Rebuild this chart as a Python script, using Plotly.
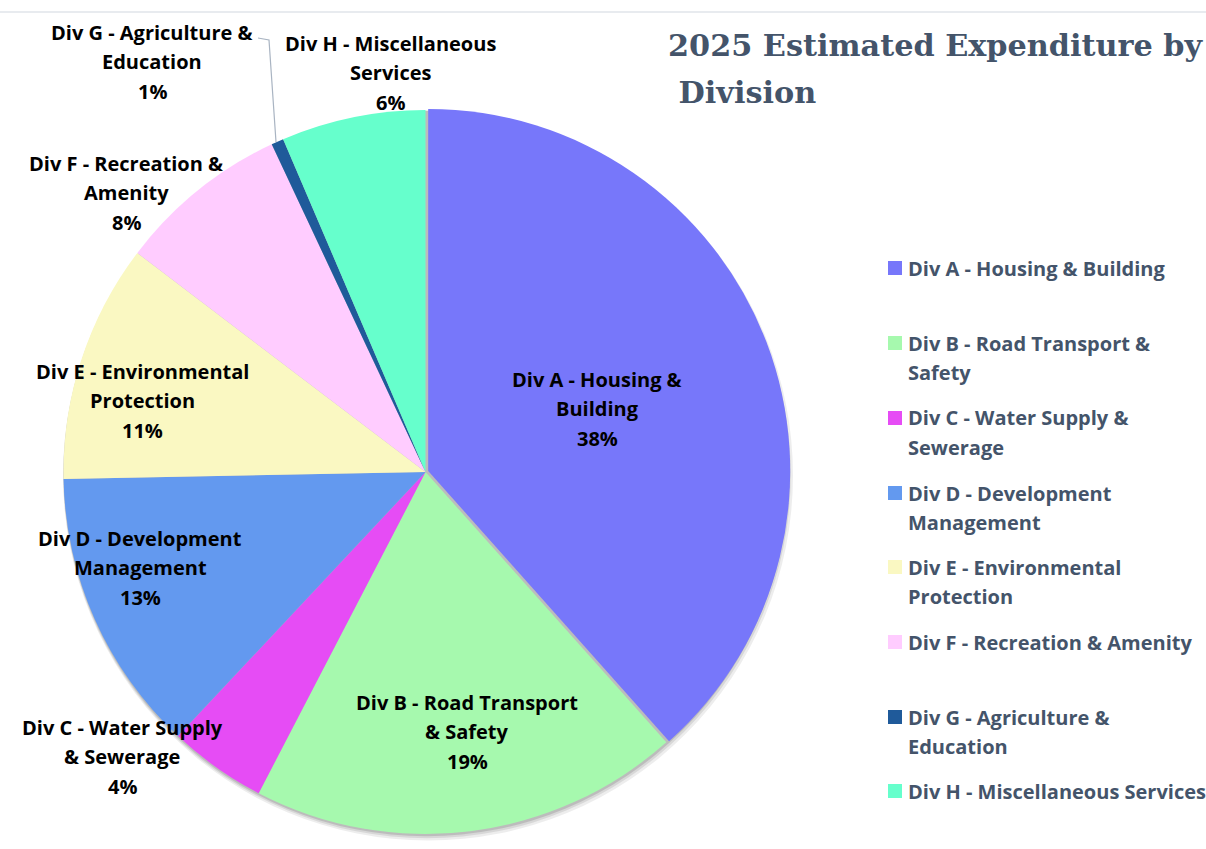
import plotly.graph_objects as go

W, H = 1206, 849

# ---------------- data ----------------
categories = [
    "Div A - Housing & Building",
    "Div B - Road Transport & Safety",
    "Div C - Water Supply & Sewerage",
    "Div D - Development Management",
    "Div E - Environmental Protection",
    "Div F - Recreation & Amenity",
    "Div G - Agriculture & Education",
    "Div H - Miscellaneous Services",
]
shares = [38.4, 19.2, 4.36, 12.7, 10.65, 7.67, 0.55, 6.43]
colors = ["#7777FA", "#A6F9AE", "#E64CF5", "#6399EF",
          "#FAF8C2", "#FFCCFF", "#1F5A9A", "#66FFCC"]

# wrapped label text (data labels on the pie)
label_lines = [
    ["Div A - Housing &", "Building"],
    ["Div B - Road Transport", "& Safety"],
    ["Div C - Water Supply", "& Sewerage"],
    ["Div D - Development", "Management"],
    ["Div E - Environmental", "Protection"],
    ["Div F - Recreation &", "Amenity"],
    ["Div G - Agriculture &", "Education"],
    ["Div H - Miscellaneous", "Services"],
]
# wrapped legend text
legend_lines = [
    ["Div A - Housing & Building"],
    ["Div B - Road Transport &", "Safety"],
    ["Div C - Water Supply &", "Sewerage"],
    ["Div D - Development", "Management"],
    ["Div E - Environmental", "Protection"],
    ["Div F - Recreation & Amenity"],
    ["Div G - Agriculture &", "Education"],
    ["Div H - Miscellaneous Services"],
]
title_lines = ["2025 Estimated Expenditure by", " Division"]

# ---------------- layout helpers ----------------
def fx(px):
    return px / W


def fy(py):
    return 1 - py / H


FONT = "Open Sans"
LABEL_SIZE = 20
LINE_H = 29.7
LEG_COLOR = "#44546A"

# pie geometry (pixels)
CX, CY, R = 425.5, 472.0, 362.0
PULL_A = 0.008

fig = go.Figure()

# soft drop shadow (blurred grey discs under the pie)
for (dx, dy, extra, alpha) in [(2.5, 3.5, 3.0, 0.07), (1.5, 2.5, 1.8, 0.09), (0.8, 1.5, 0.8, 0.12)]:
    rr = R + extra
    fig.add_trace(go.Pie(
        values=[1], labels=["shadow"], sort=False,
        marker=dict(colors=[f"rgba(0,0,0,{alpha})"], line=dict(width=0)),
        textinfo="none", hoverinfo="skip", showlegend=False,
        domain=dict(x=[fx(CX + dx - rr), fx(CX + dx + rr)],
                    y=[fy(CY + dy + rr), fy(CY + dy - rr)]),
    ))

# main pie
side = R * (1 + PULL_A)
pulls = [PULL_A] + [0] * (len(shares) - 1)
fig.add_trace(go.Pie(
    labels=categories, values=shares, sort=False, direction="clockwise",
    rotation=0, pull=pulls,
    marker=dict(colors=colors, line=dict(width=0)),
    textinfo="none", hoverinfo="label+percent", showlegend=False,
    domain=dict(x=[fx(CX - side), fx(CX + side)],
                y=[fy(CY + side), fy(CY - side)]),
))

total = sum(shares)
pcts = [f"{round(100 * v / total)}%" for v in shares]

# data-label positions (pixel centre x, centre y of first line)
label_pos = [(597, 379), (467, 702), (122, 727), (140, 538),
             (142, 371), (126, 163), (152, 32), (390, 43)]

annotations = []
for lines, pct, (lx, ly) in zip(label_lines, pcts, label_pos):
    for i, t in enumerate(lines + [pct]):
        annotations.append(dict(
            x=fx(lx), y=fy(ly + i * LINE_H), xref="paper", yref="paper",
            text=f"<b>{t}</b>", showarrow=False, xanchor="center", yanchor="middle",
            font=dict(family=FONT, size=LABEL_SIZE, color="#000000"),
        ))

# legend (drawn manually to match spacing)
legend_y = [268, 343, 418, 493, 567, 642, 717, 791]
shapes = []
for lines, col, ly in zip(legend_lines, colors, legend_y):
    shapes.append(dict(type="rect", xref="paper", yref="paper",
                       x0=fx(888), x1=fx(902), y0=fy(ly + 7), y1=fy(ly - 7),
                       fillcolor=col, line=dict(width=0)))
    for i, t in enumerate(lines):
        annotations.append(dict(
            x=fx(906), y=fy(ly + i * 29.3), xref="paper", yref="paper",
            text=f"<b>{t}</b>", showarrow=False, xanchor="left", yanchor="middle",
            font=dict(family=FONT, size=LABEL_SIZE, color=LEG_COLOR),
        ))

# title
for i, t in enumerate(title_lines):
    annotations.append(dict(
        x=fx(666), y=fy(45 + i * 47), xref="paper", yref="paper",
        text=f"<b>{t}</b>", showarrow=False, xanchor="left", yanchor="middle",
        font=dict(family="DejaVu Serif", size=30.3, color=LEG_COLOR),
    ))

# leader line for Div G label
shapes.append(dict(type="path", xref="paper", yref="paper",
                   path=f"M {fx(258)},{fy(38)} L {fx(269)},{fy(40)} L {fx(276)},{fy(142)}",
                   line=dict(color="#A9B4C2", width=1.2)))
# faint top border
shapes.append(dict(type="line", xref="paper", yref="paper",
                   x0=0, x1=1, y0=fy(12), y1=fy(12),
                   line=dict(color="#E1E5EA", width=1.5)))

fig.update_layout(
    width=W, height=H,
    margin=dict(l=0, r=0, t=0, b=0),
    paper_bgcolor="white", plot_bgcolor="white",
    showlegend=False,
    annotations=annotations, shapes=shapes,
)

fig.write_html("out.html", config={"displayModeBar": False},
               post_script="document.body.style.margin='0';document.body.style.overflow='hidden';")
